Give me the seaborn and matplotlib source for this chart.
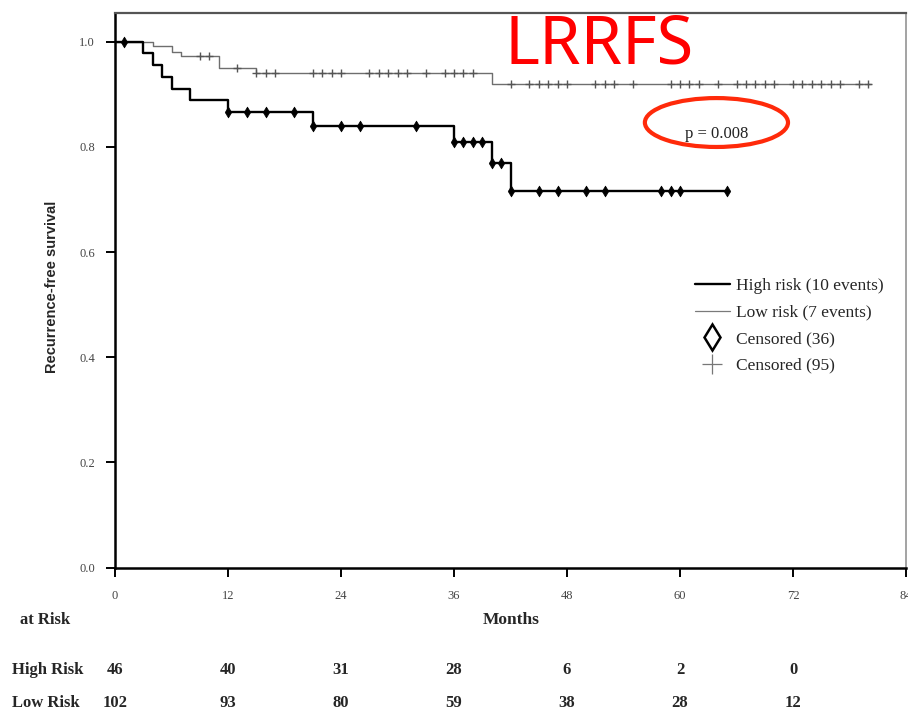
import numpy as np
import pandas as pd
import matplotlib
matplotlib.use("Agg")
import matplotlib.pyplot as plt
import seaborn as sns
from matplotlib.lines import Line2D
from matplotlib.patches import Ellipse
from matplotlib.transforms import blended_transform_factory

# ---------------- data ----------------
high_event_t = [0, 3, 4, 5, 6, 8, 12, 21, 36, 40, 42]
high_surv = [1.0, 0.978, 0.956, 0.933, 0.911, 0.889, 0.867, 0.839, 0.809, 0.770, 0.716]
high_end = 65
high_cens_t = [1, 12, 14, 16, 19, 21, 24, 26, 32, 36, 37, 38, 39, 40, 41, 42,
               45, 47, 50, 52, 58, 59, 60, 65]

low_event_t = [0, 4, 6, 7, 11, 15, 40]
low_surv = [1.0, 0.991, 0.981, 0.972, 0.950, 0.940, 0.920]
low_end = 80.3
low_cens_t = [9, 10, 13, 15, 16, 17, 21, 22, 23, 24, 27, 28, 29, 30, 31, 33, 35,
              36, 37, 38, 42, 44, 45, 46, 47, 48, 51, 52, 53, 55, 59, 60, 61, 62,
              64, 66, 67, 68, 69, 70, 72, 73, 74, 75, 76, 77, 79, 80]

risk_months = [0, 12, 24, 36, 48, 60, 72]
high_risk_n = [46, 40, 31, 28, 6, 2, 0]
low_risk_n = [102, 93, 80, 59, 38, 28, 12]

x_ticks = [0, 12, 24, 36, 48, 60, 72, 84]
y_ticks = [0.0, 0.2, 0.4, 0.6, 0.8, 1.0]

legend_labels = ["High risk (10 events)", "Low risk (7 events)",
                 "Censored (36)", "Censored (95)"]
p_text = "p = 0.008"

# ---------------- helpers ----------------
def step_frame(times, surv, end):
    t = list(times) + [end]
    s = list(surv) + [surv[-1]]
    return pd.DataFrame({"Months": t, "Survival": s})

def cens_frame(times, ev_t, surv):
    idx = np.searchsorted(np.asarray(ev_t), np.asarray(times), side="right") - 1
    return pd.DataFrame({"Months": times, "Survival": np.asarray(surv)[idx]})

high_df = step_frame(high_event_t, high_surv, high_end)
low_df = step_frame(low_event_t, low_surv, low_end)
high_c = cens_frame(high_cens_t, high_event_t, high_surv)
low_c = cens_frame(low_cens_t, low_event_t, low_surv)

# ---------------- style ----------------
sns.set_style("ticks")
plt.rcParams["font.family"] = ["Liberation Serif", "DejaVu Serif"]

W, H = 908, 713
fig = plt.figure(figsize=(W / 100, H / 100), dpi=100)
ax = fig.add_axes([115 / W, 1 - 567.5 / H, (906 - 115) / W, (567.5 - 13) / H])

sns.lineplot(data=low_df, x="Months", y="Survival", ax=ax, drawstyle="steps-post",
             color="#6e6e6e", linewidth=1.0, estimator=None, sort=False)
sns.lineplot(data=high_df, x="Months", y="Survival", ax=ax, drawstyle="steps-post",
             color="black", linewidth=1.7, estimator=None, sort=False)

sns.scatterplot(data=low_c, x="Months", y="Survival", ax=ax, marker="+",
                s=40, color="#555555", linewidth=1.0, zorder=4)
sns.scatterplot(data=high_c, x="Months", y="Survival", ax=ax, marker="d",
                s=30, color="black", edgecolor="black", linewidth=0.5, zorder=5)

ax.set_xlim(0, 84)
ax.set_ylim(0, 1.0546)
ax.set_xticks(x_ticks)
ax.set_yticks(y_ticks)
ax.set_xticklabels([str(v) for v in x_ticks])
ax.set_yticklabels([f"{v:.1f}" for v in y_ticks])
ax.tick_params(axis="both", direction="out", length=6.5, width=1.4,
               labelsize=9, labelcolor="#444444", color="black")
ax.tick_params(axis="y", pad=8)
ax.tick_params(axis="x", pad=10)
ax.set_xlabel("")
ax.set_ylabel("")

for side in ["left", "bottom"]:
    ax.spines[side].set_linewidth(1.8)
    ax.spines[side].set_color("black")
ax.spines["top"].set_visible(True)
ax.spines["right"].set_visible(True)
ax.spines["top"].set_linewidth(1.6)
ax.spines["top"].set_color("#555555")
ax.spines["right"].set_linewidth(1.1)
ax.spines["right"].set_color("#8a8a8a")

# axis labels
fig.text(52 / W, 1 - 287 / H, "Recurrence-free survival", rotation=90,
         ha="center", va="center", fontsize=10.5, fontweight="bold",
         family=["Liberation Sans", "DejaVu Sans"])
fig.text(511 / W, 1 - 620 / H, "Months", ha="center", va="center",
         fontsize=12.5, fontweight="bold")

# risk table
fig.text(20 / W, 1 - 620 / H, "at Risk", ha="left", va="center",
         fontsize=12, fontweight="bold")
fig.text(12 / W, 1 - 670 / H, "High Risk", ha="left", va="center",
         fontsize=12, fontweight="bold")
fig.text(12 / W, 1 - 703 / H, "Low Risk", ha="left", va="center",
         fontsize=12, fontweight="bold")
bt = blended_transform_factory(ax.transData, fig.transFigure)
for m, hn, ln in zip(risk_months, high_risk_n, low_risk_n):
    ax.text(m, 1 - 670 / H, str(hn), transform=bt, ha="center", va="center",
            fontsize=12, fontweight="bold", clip_on=False)
    ax.text(m, 1 - 703 / H, str(ln), transform=bt, ha="center", va="center",
            fontsize=12, fontweight="bold", clip_on=False)

# p-value with red ellipse
ax.text(63.9, 0.825, p_text, ha="center", va="center", fontsize=12, color="#222222")
ax.add_patch(Ellipse((63.87, 0.8463), 15.2, 0.093, fill=False,
                     edgecolor="#ff2a0a", linewidth=3.0, zorder=6))

# big red title annotation
fig.text(599 / W, 1 - 45 / H, "LRRFS", ha="center", va="center", fontsize=48,
         color="#ff0000", fontweight="medium", family=["Noto Sans", "DejaVu Sans"])

# legend
handles = [
    Line2D([], [], color="black", linewidth=1.7),
    Line2D([], [], color="#7a7a7a", linewidth=0.9),
    Line2D([], [], linestyle="none", marker="d", markersize=13,
           markerfacecolor="white", markeredgecolor="black", markeredgewidth=1.8),
    Line2D([], [], linestyle="none", marker="+", markersize=15,
           color="#777777", markeredgewidth=0.9),
]
ax.legend(handles, legend_labels, loc="upper left",
          bbox_to_anchor=(695 / W, 1 - 278 / H), bbox_transform=fig.transFigure,
          frameon=False, fontsize=12.5, handlelength=2.0, handletextpad=0.35,
          labelspacing=0.6, borderpad=0, borderaxespad=0)

fig.savefig("out.png", dpi=100)
